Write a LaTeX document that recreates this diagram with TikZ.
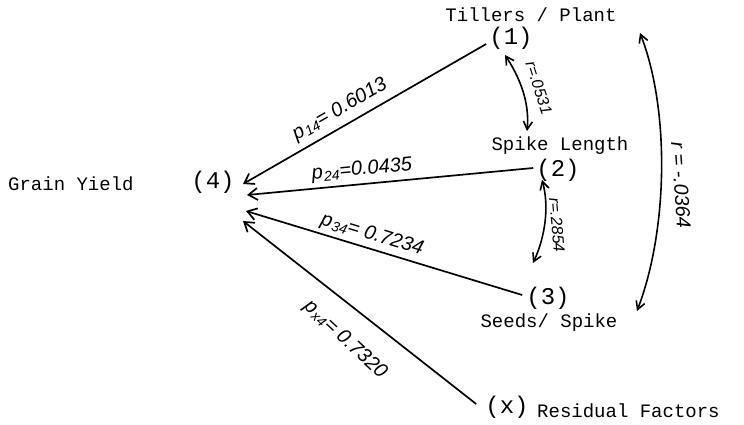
\documentclass[tikz,border=0pt]{standalone}
\usepackage{fontspec}
\setmonofont{Liberation Mono}
\setsansfont{Liberation Sans}
\usetikzlibrary{arrows.meta}
\newcommand{\lowsub}[1]{\kern1pt\raisebox{-2.5pt}{\fontsize{14}{14}\selectfont #1}}
\begin{document}
\begin{tikzpicture}[x=1pt,y=-1pt,
  lab/.style={font=\fontsize{19}{22}\selectfont\ttfamily, inner sep=0pt},
  num/.style={font=\fontsize{24}{26}\selectfont\ttfamily, inner sep=1pt},
  coef/.style={font=\fontsize{20}{22}\selectfont\sffamily\itshape, inner sep=0pt},
  rcoef/.style={font=\fontsize{16}{18}\selectfont\sffamily\itshape, inner sep=0pt},
  pathline/.style={line width=1.7pt, -{Straight Barb[length=9pt,width=12pt]}},
  corr/.style={line width=1.6pt, {Straight Barb[length=8pt,width=9pt]}-{Straight Barb[length=8pt,width=9pt]}}]
\path[use as bounding box] (0,0) rectangle (744,425);

% variable nodes
\node[num] (n1) at (511,38) {(1)};
\node[num] (n2) at (558,170) {(2)};
\node[num] (n3) at (548,298) {(3)};
\node[num] (n4) at (213,182) {(4)};
\node[num] (nx) at (507,407) {(x)};

% names
\node[lab] (t1) at (531,15) {Tillers / Plant};
\node[lab] (t2) at (560,146) {Spike Length};
\node[lab] (t3) at (549,323) {Seeds/ Spike};
\node[lab, anchor=west] (t4) at (8,184) {Grain Yield};
\node[lab, anchor=west] (tx) at (537,411) {Residual Factors};

% arrow tips at (4)
\coordinate (e14) at (243,184);
\coordinate (e24) at (247,195);
\coordinate (e34) at (246,211);
\coordinate (ex4) at (243,221);

% path coefficients
\draw[pathline] (n1.west) ++(-2,6) coordinate (s1) -- (e14);
\draw[pathline] (n2.west) ++(-2,-2) coordinate (s2) -- (e24);
\draw[pathline] (n3.west) ++(-3,-3) coordinate (s3) -- (e34);
\draw[pathline] (nx.west) ++(-8,-3) coordinate (sx) -- (ex4);

\node[coef, rotate=30] (l14) at (340,110) {p\lowsub{14}= 0.6013};
\node[coef, rotate=5.5] (l24) at (362,170) {p\lowsub{24}=0.0435};
\node[coef, rotate=-17] (l34) at (372,235) {p\lowsub{34}= 0.7234};
\node[coef, rotate=-43] (lx4) at (345,340) {p\lowsub{x4}= 0.7320};

% correlations
\coordinate (a1) at (505,55);
\coordinate (a2) at (527,131);
\coordinate (b2) at (542,180);
\coordinate (b3) at (533,263);
\coordinate (c1) at (640,33);
\coordinate (c3) at (637,311);
\draw[corr] (a1) .. controls (518,75) and (530,100) .. (a2);
\draw[corr] (b2) .. controls (549,205) and (546,235) .. (b3);
\draw[corr] (c1) .. controls (670,110) and (668,230) .. (c3);

\node[rcoef, rotate=-72] (r12) at (539,88) {r=.0531};
\node[rcoef, rotate=-85] (r23) at (557,225) {r=.2854};
\node[coef, rotate=-86] (r13) at (681,185) {r = -.0364};
\end{tikzpicture}
\end{document}
